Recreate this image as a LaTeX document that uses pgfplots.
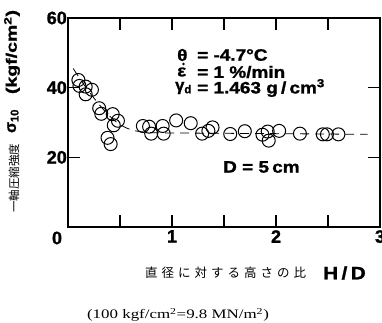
\documentclass[border=0pt]{standalone}
\usepackage{fontspec}
\setmainfont{Liberation Sans}[BoldFeatures={FakeBold=1.2}]
\newfontfamily\jp{Noto Sans CJK JP}
\newfontfamily\notefont{Liberation Serif}
\usepackage{pgfplots}
\pgfplotsset{compat=1.18}

% strength ratio data: H/D versus sigma_10
\pgfplotstableread{
hd    s
0.10  42.2
0.11  40.5
0.17  40.3
0.23  39.4
0.17  38.1
0.30  34.1
0.32  32.5
0.43  32.4
0.48  30.5
0.44  29.2
0.38  25.6
0.41  23.8
0.72  29.0
0.78  28.8
0.80  26.8
0.91  29.0
0.92  26.8
1.04  30.6
1.18  29.8
1.29  26.8
1.35  27.6
1.39  28.6
1.56  26.7
1.70  27.5
1.87  26.5
1.92  27.4
1.93  24.8
2.03  27.6
2.23  26.8
2.45  26.6
2.49  26.6
2.60  26.6
}\strength

\newcommand{\wide}[1]{\scalebox{1.15}[1]{#1}}

\begin{document}
\begin{tikzpicture}[x=1pt,y=1pt]
\useasboundingbox (0,0) rectangle (382,322);
\begin{axis}[
  at={(68pt,95pt)}, anchor=south west, scale only axis,
  width=312pt, height=209pt,
  xmin=0, xmax=3, ymin=0, ymax=60,
  axis line style={line width=1.3pt},
  xtick={0.5,1,1.5,2,2.5,3}, xticklabels={,1,,2,,3},
  ytick={20,40,60}, yticklabels={20,40,60},
  tick align=inside, major tick length=12pt,
  tick style={line width=1.1pt, black},
  xtick pos=both, ytick pos=both,
  /pgf/number format/assume math mode=true,
  tick label style={font=\bfseries\fontsize{18}{18}\selectfont},
  xticklabel style={inner sep=1pt, yshift=-2pt},
  yticklabel style={inner sep=1pt},
  clip=false,
]
% fitted trend
\addplot[black, line width=0.8pt, dash pattern=on 9pt off 6pt, smooth, tension=0.5] coordinates {
  (0.05,45.5) (0.15,41.0) (0.25,37.0) (0.35,33.4) (0.45,30.5) (0.55,28.6)
  (0.65,27.6) (0.80,27.1) (1.00,27.0) (1.50,26.9) (2.00,26.8) (2.88,26.6)
};
\addplot[only marks, mark=o, mark size=6.5pt, mark options={line width=1pt, black}] table[x=hd, y=s] {\strength};
\end{axis}

% origin label
\node[font=\bfseries\fontsize{18}{18}\selectfont] at (57,84) {0};

% test conditions
\begin{scope}[font=\bfseries\fontsize{16.5}{16.5}\selectfont]
\node[anchor=west, inner sep=0] at (177,267) {\wide{θ}};
\node[anchor=west, inner sep=0] at (197,267) {\wide{= -4.7°C}};
\node[anchor=west, inner sep=0] at (177,250) {\wide{ε}};
\fill (183.5,258) circle (1.3);
\node[anchor=west, inner sep=0] at (197,250) {\wide{= 1 \%/min}};
\node[anchor=west, inner sep=0] at (175,234) {γ\textsubscript{d}};
\node[anchor=west, inner sep=0] at (197,234) {\wide{= 1.463 g\,/\,cm\textsuperscript{3}}};
\node[anchor=west, inner sep=0] at (223,155) {\wide{D = 5\,cm}};
\end{scope}

% axis titles
\node[anchor=west, inner sep=0, font=\jp\fontsize{12.5}{12.5}\selectfont] at (145,49)
  {直\hspace{4pt}径\hspace{4pt}に\hspace{4pt}対\hspace{4pt}す\hspace{4pt}る\hspace{4pt}高\hspace{4pt}さ\hspace{4pt}の\hspace{4pt}比};
\node[anchor=west, inner sep=0, font=\bfseries\fontsize{18}{18}\selectfont] at (323,49) {\wide{H\,/\,D}};

\node[rotate=90, inner sep=0, font=\jp\fontsize{11.5}{11.5}\selectfont] at (14,144) {一軸圧縮強度};
\node[rotate=90, inner sep=0, font=\bfseries\fontsize{16}{16}\selectfont] at (13,201) {σ\textsubscript{10}};
\node[rotate=90, inner sep=0, font=\bfseries\fontsize{15}{15}\selectfont] at (12,270) {\scalebox{1.3}[1]{(kgf/cm\textsuperscript{2})}};

% unit conversion note
\node[inner sep=0, font=\notefont\fontsize{13}{13}\selectfont] at (178,7)
  {\scalebox{1.3}[1]{(100 kgf/cm\textsuperscript{2}=9.8 MN/m\textsuperscript{2})}};
\end{tikzpicture}
\end{document}
